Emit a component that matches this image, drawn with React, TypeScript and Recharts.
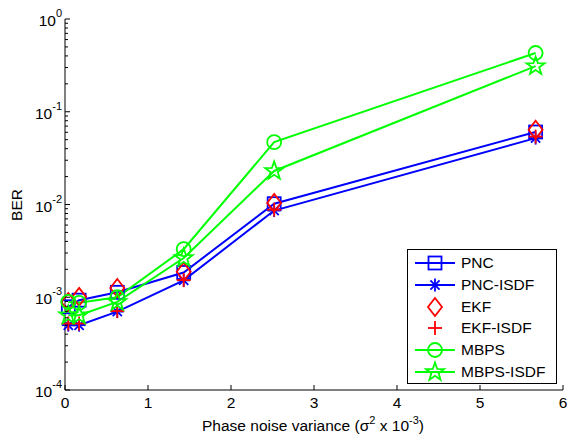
import { LineChart, Line, XAxis, YAxis, Legend } from 'recharts'

const FONT = '"Liberation Sans", Arial, Helvetica, sans-serif'

// phase noise variance (sigma^2 x 10^-3)
const phaseNoiseVar = [0.04, 0.17, 0.63, 1.43, 2.52, 5.67]

// BER per method
const berPnc = [0.00079, 0.00093, 0.00113, 0.00185, 0.0102, 0.0605]
const berPncIsdf = [0.0005, 0.0005, 0.0007, 0.00152, 0.0086, 0.052]
const berEkf = [0.00089, 0.00101, 0.00126, 0.00188, 0.0104, 0.064]
const berEkfIsdf = [0.00052, 0.00052, 0.00071, 0.00153, 0.0088, 0.054]
const berMbps = [0.00089, 0.00087, 0.001, 0.0033, 0.047, 0.43]
const berMbpsIsdf = [0.00064, 0.00064, 0.00089, 0.00265, 0.023, 0.31]

const xTicks = [0, 1, 2, 3, 4, 5, 6]
const yDecades = [1e-4, 1e-3, 1e-2, 1e-1, 1]
const yDecadeLabels = ['-4', '-3', '-2', '-1', '0']
const minorSteps = [2, 3, 4, 5, 6, 7, 8, 9]

const yMinor = yDecades.slice(0, -1).flatMap((d) => minorSteps.map((m) => d * m))
const yTicks = [...yDecades, ...yMinor]

const data = phaseNoiseVar.map((x, i) => ({
  x,
  pnc: berPnc[i],
  pncIsdf: berPncIsdf[i],
  ekf: berEkf[i],
  ekfIsdf: berEkfIsdf[i],
  mbps: berMbps[i],
  mbpsIsdf: berMbpsIsdf[i],
}))

type Marker = 'square' | 'asterisk' | 'diamond' | 'plus' | 'circle' | 'star'

const series: { key: string; name: string; color: string; line: boolean; marker: Marker }[] = [
  { key: 'pnc', name: 'PNC', color: '#0000ff', line: true, marker: 'square' },
  { key: 'pncIsdf', name: 'PNC-ISDF', color: '#0000ff', line: true, marker: 'asterisk' },
  { key: 'ekf', name: 'EKF', color: '#ff0000', line: false, marker: 'diamond' },
  { key: 'ekfIsdf', name: 'EKF-ISDF', color: '#ff0000', line: false, marker: 'plus' },
  { key: 'mbps', name: 'MBPS', color: '#00ff00', line: true, marker: 'circle' },
  { key: 'mbpsIsdf', name: 'MBPS-ISDF', color: '#00ff00', line: true, marker: 'star' },
]

function drawMarker(type: Marker, cx: number, cy: number, color: string, key?: string) {
  const sw = 1.8
  switch (type) {
    case 'square':
      return <rect key={key} x={cx - 6.5} y={cy - 6.5} width={13} height={13} fill="none" stroke={color} strokeWidth={sw} />
    case 'diamond':
      return (
        <polygon
          key={key}
          points={`${cx},${cy - 9} ${cx + 7},${cy} ${cx},${cy + 9} ${cx - 7},${cy}`}
          fill="none"
          stroke={color}
          strokeWidth={sw}
        />
      )
    case 'circle':
      return <circle key={key} cx={cx} cy={cy} r={7} fill="none" stroke={color} strokeWidth={sw} />
    case 'plus':
      return (
        <g key={key} stroke={color} strokeWidth={sw}>
          <line x1={cx - 7} y1={cy} x2={cx + 7} y2={cy} />
          <line x1={cx} y1={cy - 7} x2={cx} y2={cy + 7} />
        </g>
      )
    case 'asterisk': {
      const r = 6.5
      const d = r * 0.707
      return (
        <g key={key} stroke={color} strokeWidth={sw}>
          <line x1={cx - r} y1={cy} x2={cx + r} y2={cy} />
          <line x1={cx} y1={cy - r} x2={cx} y2={cy + r} />
          <line x1={cx - d} y1={cy - d} x2={cx + d} y2={cy + d} />
          <line x1={cx - d} y1={cy + d} x2={cx + d} y2={cy - d} />
        </g>
      )
    }
    case 'star': {
      const pts: string[] = []
      for (let k = 0; k < 10; k++) {
        const rad = k % 2 === 0 ? 9.5 : 3.8
        const a = -Math.PI / 2 + (k * Math.PI) / 5
        pts.push(`${cx + rad * Math.cos(a)},${cy + rad * Math.sin(a)}`)
      }
      return <polygon key={key} points={pts.join(' ')} fill="none" stroke={color} strokeWidth={sw} />
    }
  }
}

function BottomTick({ x, y, payload }: any) {
  return (
    <g>
      <line x1={x} y1={y} x2={x} y2={y - 5} stroke="#000" />
      <text x={x} y={y + 18} textAnchor="middle" fontSize={15.5} fontFamily={FONT} fill="#000">
        {payload.value}
      </text>
    </g>
  )
}

function TopTick({ x, y }: any) {
  return <line x1={x} y1={y} x2={x} y2={y + 5} stroke="#000" />
}

function LeftTick({ x, y, payload }: any) {
  const idx = yDecades.indexOf(payload.value)
  if (idx < 0) return <line x1={x} y1={y} x2={x + 3} y2={y} stroke="#000" />
  return (
    <g>
      <line x1={x} y1={y} x2={x + 5} y2={y} stroke="#000" />
      <text x={x - 3} y={y + 7} textAnchor="end" fontSize={15.5} fontFamily={FONT} fill="#000">
        <tspan>10</tspan>
        <tspan dy={-9} fontSize={11}>
          {yDecadeLabels[idx]}
        </tspan>
      </text>
    </g>
  )
}

function RightTick({ x, y, payload }: any) {
  const major = yDecades.indexOf(payload.value) >= 0
  return <line x1={x} y1={y} x2={x - (major ? 5 : 3)} y2={y} stroke="#000" />
}

function XTitle() {
  return (
    <text x={313} y={431} textAnchor="middle" fontSize={15.5} fontFamily={FONT} fill="#000">
      <tspan>Phase noise variance (σ</tspan>
      <tspan dy={-7} fontSize={11}>2</tspan>
      <tspan dy={7}> x 10</tspan>
      <tspan dy={-7} fontSize={11}>-3</tspan>
      <tspan dy={7}>)</tspan>
    </text>
  )
}

function YTitle() {
  return (
    <text x={22} y={205} transform="rotate(-90 22 205)" textAnchor="middle" fontSize={15.5} fontFamily={FONT} fill="#000">
      BER
    </text>
  )
}

function LegendBox() {
  return (
    <div
      style={{
        width: 150,
        height: 135,
        boxSizing: 'border-box',
        border: '1px solid #000',
        background: '#fff',
        fontFamily: FONT,
        fontSize: 15.5,
        paddingTop: 2,
      }}
    >
      {series.map((s) => (
        <div key={s.key} style={{ display: 'flex', alignItems: 'center', height: 21.8 }}>
          <svg width={53} height={22} style={{ overflow: 'visible' }}>
            {s.line && <line x1={7} x2={47} y1={11} y2={11} stroke={s.color} strokeWidth={2} />}
            {drawMarker(s.marker, 27, 11, s.color)}
          </svg>
          <span style={{ lineHeight: '22px' }}>{s.name}</span>
        </div>
      ))}
    </div>
  )
}

export default function App() {
  return (
    <div style={{ position: 'absolute', left: 0, top: 0, background: '#fff', fontFamily: FONT }}>
      <LineChart width={567} height={441} data={data} margin={{ top: 19, right: 4, left: 0, bottom: 0 }}>
        <XAxis
          dataKey="x"
          type="number"
          domain={[0, 6]}
          ticks={xTicks}
          interval={0}
          height={51}
          tickSize={0}
          tickMargin={0}
          tickLine={false}
          axisLine={{ stroke: '#000' }}
          tick={<BottomTick />}
          label={<XTitle />}
        />
        <XAxis
          xAxisId="top"
          orientation="top"
          dataKey="x"
          type="number"
          domain={[0, 6]}
          ticks={xTicks}
          interval={0}
          height={0}
          tickSize={0}
          tickMargin={0}
          tickLine={false}
          axisLine={{ stroke: '#000' }}
          tick={<TopTick />}
        />
        <YAxis
          type="number"
          scale="log"
          domain={[1e-4, 1]}
          allowDataOverflow
          ticks={yTicks}
          interval={0}
          width={65}
          tickSize={0}
          tickMargin={0}
          tickLine={false}
          axisLine={{ stroke: '#000' }}
          tick={<LeftTick />}
          label={<YTitle />}
        />
        <YAxis
          yAxisId="right"
          orientation="right"
          type="number"
          scale="log"
          domain={[1e-4, 1]}
          allowDataOverflow
          ticks={yTicks}
          interval={0}
          width={0}
          tickSize={0}
          tickMargin={0}
          tickLine={false}
          axisLine={{ stroke: '#000' }}
          tick={<RightTick />}
        />
        {series.map((s) => (
          <Line
            key={s.key}
            dataKey={s.key}
            name={s.name}
            stroke={s.line ? s.color : 'none'}
            strokeWidth={s.line ? 2 : 0}
            isAnimationActive={false}
            dot={(p: any) => drawMarker(s.marker, p.cx, p.cy, s.color, `${s.key}-${p.index}`)}
            activeDot={false}
          />
        ))}
        <Legend
          layout="vertical"
          align="center"
          verticalAlign="middle"
          wrapperStyle={{ left: 407, top: 249, width: 150, height: 135 }}
          content={<LegendBox />}
        />
      </LineChart>
    </div>
  )
}
